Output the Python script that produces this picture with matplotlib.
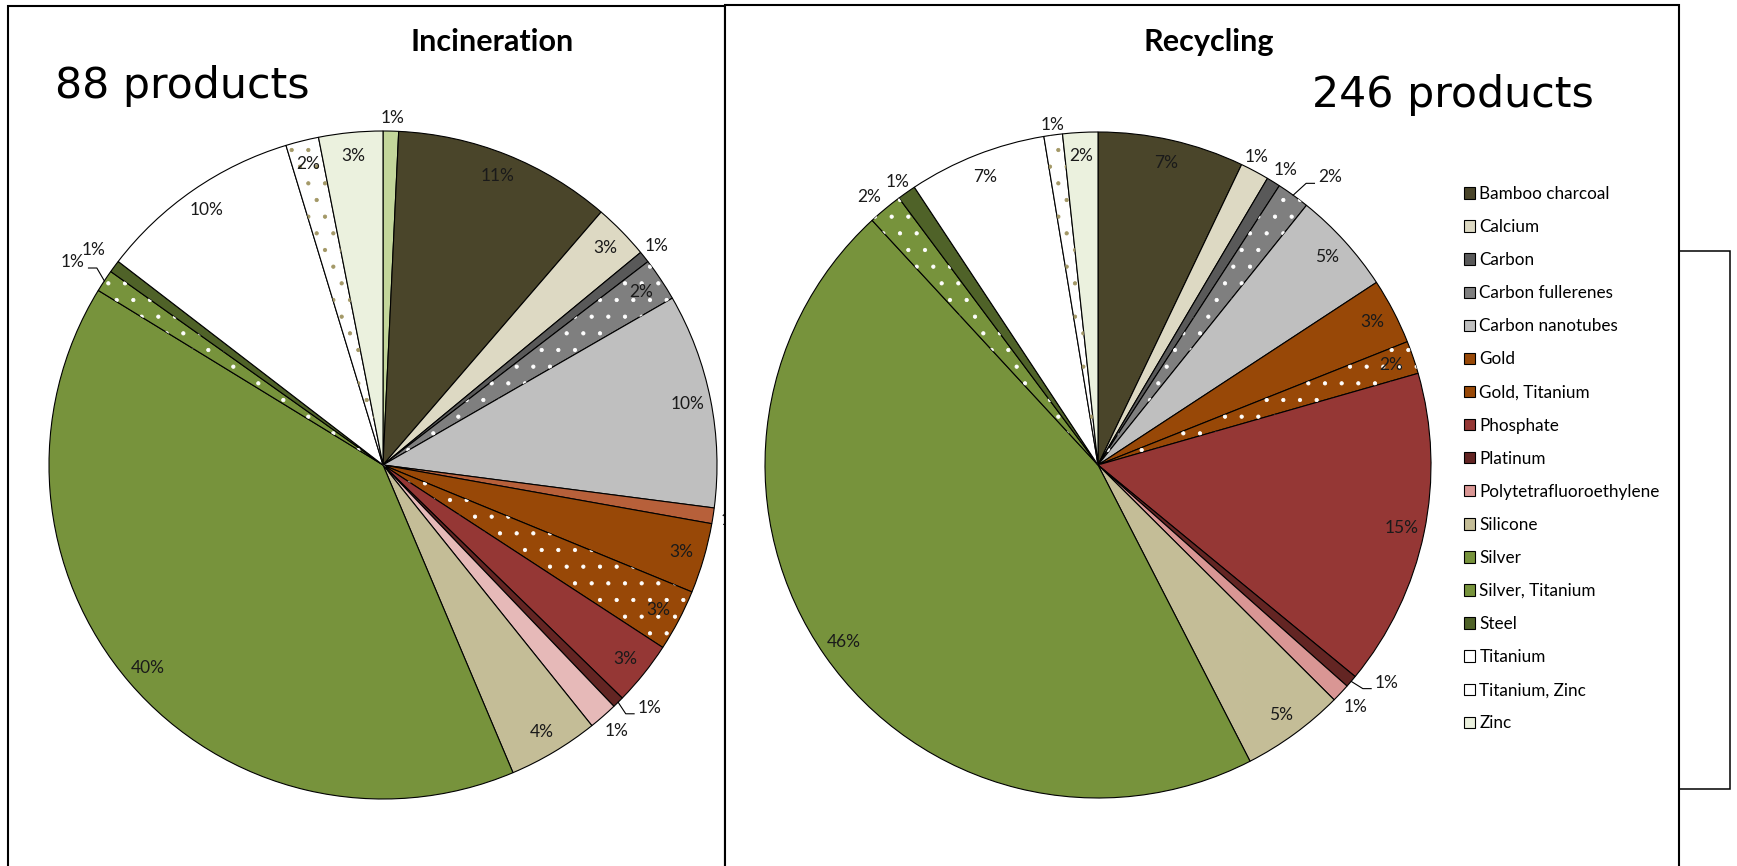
import numpy as np
import matplotlib.pyplot as plt
from matplotlib.patches import Rectangle, Patch

plt.rcParams['font.family'] = ['Lato', 'DejaVu Sans']
plt.rcParams['hatch.linewidth'] = 0.6

# Incineration (88 products): share in %, clockwise from 12 o'clock
inc_names = ['Unlisted A', 'Bamboo charcoal', 'Calcium', 'Carbon', 'Carbon fullerenes',
             'Carbon nanotubes', 'Unlisted B', 'Gold', 'Gold, Titanium', 'Phosphate',
             'Platinum', 'Polytetrafluoroethylene', 'Silicone', 'Silver',
             'Silver, Titanium', 'Steel', 'Titanium', 'Titanium, Zinc', 'Zinc']
inc_values = [0.75, 10.6, 2.7, 0.56, 2.1, 10.4, 0.76, 3.4, 3.0, 3.1,
              0.56, 1.4, 4.4, 40.2, 1.08, 0.6, 9.9, 1.6, 3.1]

# Recycling (246 products)
rec_names = ['Bamboo charcoal', 'Calcium', 'Carbon', 'Carbon fullerenes', 'Carbon nanotubes',
             'Gold', 'Gold, Titanium', 'Phosphate', 'Platinum', 'Polytetrafluoroethylene',
             'Silicone', 'Silver', 'Silver, Titanium', 'Steel', 'Titanium',
             'Titanium, Zinc', 'Zinc']
rec_values = [7.1, 1.4, 0.67, 1.6, 5.0, 3.2, 1.6, 15.4, 0.6, 0.9,
              5.0, 45.7, 1.67, 0.9, 6.7, 0.9, 1.7]

colors = {
    'Unlisted A': '#C3D69B',
    'Bamboo charcoal': '#4A452A',
    'Calcium': '#DDD9C3',
    'Carbon': '#595959',
    'Carbon fullerenes': '#7F7F7F',
    'Carbon nanotubes': '#BFBFBF',
    'Unlisted B': '#B7603A',
    'Gold': '#984807',
    'Gold, Titanium': '#984807',
    'Phosphate': '#953735',
    'Platinum': '#632523',
    'Polytetrafluoroethylene': '#D99694',
    'Silicone': '#C4BD97',
    'Silver': '#77933C',
    'Silver, Titanium': '#77933C',
    'Steel': '#4F6228',
    'Titanium': '#FFFFFF',
    'Titanium, Zinc': '#FFFFFF',
    'Zinc': '#EBF1DE',
}
dots = {'Carbon fullerenes': 'white', 'Gold, Titanium': 'white',
        'Silver, Titanium': 'white', 'Titanium, Zinc': '#A39866'}

# label placement: inside labels sit at 0.93 radius on the slice middle,
# outside ones get (angle from 12 o'clock, distance)
inc_out = {0: (1.5, 1.04), 3: (51.3, 1.05), 6: (98.9, 1.06), 10: (132.3, 1.08),
           11: (138.8, 1.06), 14: (303.2, 1.11), 15: (306.6, 1.08)}
inc_leader = [10, 14]
rec_out = {1: (27.3, 1.04), 2: (32.4, 1.05), 3: (38.9, 1.11), 8: (127.0, 1.086),
           9: (133.2, 1.06), 12: (319.5, 1.06), 13: (324.7, 1.04), 15: (352.4, 1.03)}
rec_leader = [3, 8]

W, H = 1737, 866
fig = plt.figure(figsize=(W / 100, H / 100), dpi=100)


def box(x0, y0, x1, y1):
    return [x0 / W, 1 - y1 / H, (x1 - x0) / W, (y1 - y0) / H]


def draw_pie(ax, names, values, outside, leaders, cols):
    wedges, _ = ax.pie(values, colors=cols, startangle=90, counterclock=False,
                       wedgeprops=dict(edgecolor='black', linewidth=0.8))
    # dotted pattern on top
    ax.pie(values, colors=['none'] * len(values), startangle=90, counterclock=False,
           hatch=['.' if n in dots else '' for n in names],
           wedgeprops=dict(edgecolor='none', linewidth=0))
    for w, n in zip(ax.patches[len(values):], names):
        if n in dots:
            w.set_edgecolor(dots[n])
            w.set_linewidth(0)
    total = sum(values)
    cum = 0
    for i, v in enumerate(values):
        mid = 360 * (cum + v / 2) / total
        cum += v
        ang, d = outside.get(i, (mid, 0.93))
        a = np.radians(ang)
        lx, ly = d * np.sin(a), d * np.cos(a)
        ax.text(lx, ly, f'{int(v + 0.5)}%', ha='center', va='center', fontsize=12.5,
                color='#1a1a1a')
        if i in leaders:
            s = 1 if lx > 0 else -1
            m = np.radians(mid)
            ex, ey = lx - s * 0.047, ly - 0.018
            bx = ex - s * 0.025
            ax.plot([np.sin(m), bx, ex], [np.cos(m), ey, ey], color='black', lw=0.8)
    ax.set_xlim(-1, 1)
    ax.set_ylim(-1, 1)
    ax.set_aspect('equal')
    ax.axis('off')
    return wedges


# left panel frame
fig.add_artist(Rectangle((8 / W, -0.1), (725 - 8) / W, 1.1 - 6 / H, transform=fig.transFigure,
                         facecolor='white', edgecolor='black', lw=1.5, zorder=1))

ax1 = fig.add_axes(box(383 - 334, 465 - 334, 383 + 334, 465 + 334), zorder=2)
inc_cols = [colors[n] for n in inc_names]
inc_cols[inc_names.index('Polytetrafluoroethylene')] = '#E6B9B8'
draw_pie(ax1, inc_names, inc_values, inc_out, inc_leader, inc_cols)

# right panel frame drawn over the left one
fig.add_artist(Rectangle((725 / W, -0.1), (1679 - 725) / W, 1.1 - 5 / H, transform=fig.transFigure,
                         facecolor='white', edgecolor='black', lw=1.5, zorder=3))
fig.add_artist(Rectangle((1679 / W, 1 - 789 / H), (1730 - 1679) / W, (789 - 251) / H,
                         transform=fig.transFigure, facecolor='none', edgecolor='black',
                         lw=1.1, zorder=3))

ax2 = fig.add_axes(box(1098 - 333, 465 - 333, 1098 + 333, 465 + 333), zorder=4)
draw_pie(ax2, rec_names, rec_values, rec_out, rec_leader, [colors[n] for n in rec_names])

fig.text(492 / W, 1 - 42 / H, 'Incineration', ha='center', va='center', fontsize=22,
         fontweight='bold', zorder=5)
fig.text(1209 / W, 1 - 42 / H, 'Recycling', ha='center', va='center', fontsize=22,
         fontweight='bold', zorder=5)
fig.text(55 / W, 1 - 86 / H, '88 products', ha='left', va='center', fontsize=30.8,
         family='DejaVu Sans', zorder=5)
fig.text(1312 / W, 1 - 95 / H, '246 products', ha='left', va='center', fontsize=30.8,
         family='DejaVu Sans', zorder=5)

handles = [Patch(facecolor=colors[n], edgecolor='black', lw=0.8) for n in rec_names]
leg = fig.legend(handles, rec_names, loc='upper left', bbox_to_anchor=(1464 / W, 1 - 186 / H),
                 frameon=False, fontsize=12.3, handlelength=0.65, handleheight=0.65,
                 handletextpad=0.25, labelspacing=1.0, borderaxespad=0, borderpad=0)
leg.set_zorder(5)

fig.savefig('out.png', dpi=100)
